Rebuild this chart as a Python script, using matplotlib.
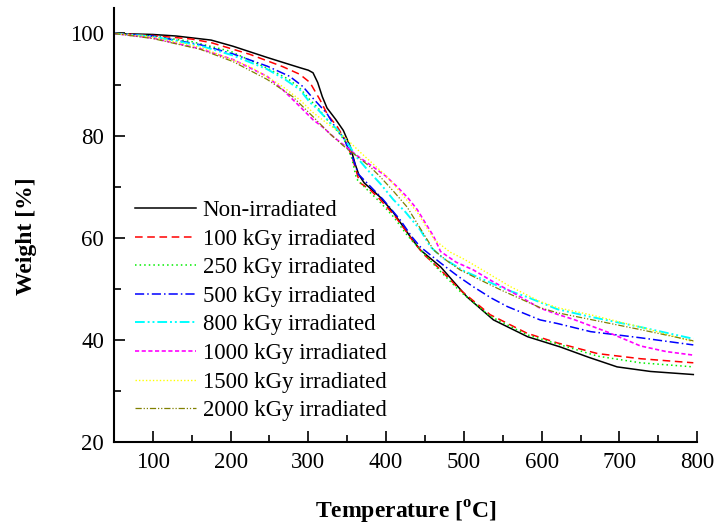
import numpy as np
import matplotlib.pyplot as plt
from matplotlib.ticker import MultipleLocator

plt.rcParams['font.family'] = 'Liberation Serif'
plt.rcParams['mathtext.fontset'] = 'custom'
plt.rcParams['mathtext.rm'] = 'Liberation Serif'
plt.rcParams['mathtext.bf'] = 'Liberation Serif:bold'

# TGA curves: temperature [C] and remaining weight [%] for each dose
t_non = [50, 100, 130, 175, 203, 247, 270, 289, 300, 306, 312, 318, 324, 335, 345, 354, 360, 365, 372, 392, 409, 431, 444, 470, 504, 538, 582, 624, 660, 697, 740, 795]
w_non = [100, 99.8, 99.5, 98.7, 97.5, 95.3, 94.2, 93.3, 92.8, 92.3, 90.4, 87.6, 85.4, 83.2, 81, 77.8, 74.5, 72.3, 70.7, 68, 65, 60.2, 57.6, 54.3, 48.4, 43.9, 40.6, 38.6, 36.6, 34.7, 33.8, 33.2]

t_100 = [50, 100, 150, 175, 225, 267, 289, 302, 315, 325, 337, 346, 356, 366, 380, 392, 410, 427, 435, 450, 466, 495, 534, 581, 620, 672, 727, 795]
w_100 = [100, 99.6, 98.9, 98.2, 95.9, 93.5, 92, 90.4, 87, 84, 81.8, 79.5, 75.9, 70.8, 69.3, 67.5, 64.5, 61, 59.2, 56.5, 54.3, 49.8, 44.9, 41.3, 39.4, 37.3, 36.3, 35.5]

t_250 = [50, 100, 150, 200, 247, 275, 289, 302, 312, 322, 335, 346, 356, 362, 375, 392, 410, 427, 440, 466, 495, 534, 581, 620, 672, 727, 795]
w_250 = [100, 99.5, 98.4, 96.5, 93.2, 91, 89.3, 87, 85.5, 83.5, 81.3, 79.2, 75.5, 71.5, 69.5, 67, 64, 60.5, 58.3, 54, 49.5, 44.6, 41, 39.2, 36.8, 35.5, 34.7]

t_500 = [50, 100, 161, 203, 247, 276, 293, 306, 315, 324, 333, 345, 358, 364, 380, 396, 418, 433, 444, 458, 473, 492, 512, 535, 556, 598, 620, 663, 727, 795]
w_500 = [100, 99.5, 97.8, 96, 93.6, 91.6, 89.6, 87.3, 85.8, 84.3, 82, 79.6, 75.3, 72.5, 70, 67.5, 63.5, 60.2, 58.2, 56.5, 54.7, 52.5, 50.4, 48.2, 46.5, 43.9, 43.2, 41.6, 40.4, 39]

t_800 = [50, 100, 161, 203, 247, 270, 289, 302, 311, 319, 328, 337, 350, 362, 376, 393, 409, 425, 444, 457, 473, 500, 525, 555, 581, 620, 663, 727, 795]
w_800 = [100, 99.4, 97.6, 95.7, 93, 91, 89, 86.5, 85.3, 84, 82.5, 81.2, 78.6, 75.8, 73.3, 70.5, 67.5, 65, 61.5, 58.2, 56, 53.5, 51.8, 49.8, 48.4, 46, 44.5, 42.5, 40.2]

t_1000 = [50, 100, 161, 203, 247, 267, 289, 306, 319, 332, 350, 365, 383, 400, 414, 428, 440, 452, 461, 470, 490, 512, 535, 560, 598, 620, 641, 685, 727, 760, 795]
w_1000 = [100, 99.1, 97, 94.9, 91.6, 89, 85.7, 83.1, 81.6, 79.8, 77.6, 75.8, 73.9, 72, 70, 67.8, 65.5, 62.5, 60.3, 57.3, 55.2, 53.7, 51.6, 49.5, 46.2, 45, 44, 41.5, 38.8, 37.7, 37]

t_1500 = [50, 100, 161, 225, 247, 267, 289, 306, 325, 337, 350, 367, 385, 401, 427, 440, 452, 462, 482, 500, 517, 540, 560, 598, 620, 663, 727, 795]
w_1500 = [100, 99.3, 97.3, 93.5, 91.5, 89.6, 87, 84.5, 82.3, 81, 79.2, 76.7, 74.2, 72, 67.3, 65, 62, 59.6, 57.2, 55.8, 54.3, 52.2, 50.4, 47.5, 46.3, 44.9, 42.5, 39.6]

t_2000 = [50, 100, 161, 203, 247, 280, 306, 328, 345, 363, 380, 392, 410, 427, 444, 461, 478, 495, 520, 547, 598, 620, 685, 727, 795]
w_2000 = [100, 99, 96.9, 94.5, 91, 87.6, 83.7, 80.3, 78, 75.9, 73.8, 72, 69, 66, 61.8, 57.6, 55.5, 53.7, 51.8, 49.8, 46.3, 45.3, 43.3, 42, 39.8]

labels = ['Non-irradiated', '100 kGy irradiated', '250 kGy irradiated', '500 kGy irradiated',
          '800 kGy irradiated', '1000 kGy irradiated', '1500 kGy irradiated', '2000 kGy irradiated']
temps = [t_non, t_100, t_250, t_500, t_800, t_1000, t_1500, t_2000]
weights = [w_non, w_100, w_250, w_500, w_800, w_1000, w_1500, w_2000]

colors = ['black', '#ff0000', '#00ee00', '#0000ff', '#00ffff', '#ff00ff', '#ffff00', '#808000']
styles = ['-', (0, (5, 3)), (0, (1, 2)), (0, (6, 2, 1, 2)), (0, (5, 1.5, 1, 1.5, 1, 1.5)),
          (0, (2.5, 1.5)), (0, (1, 1.5)), (0, (5, 1.5, 1, 1.5, 1, 1.5))]
widths = [1.1, 1.1, 1.1, 1.1, 1.4, 1.2, 1.0, 0.9]

fig = plt.figure(figsize=(7.21, 5.28), dpi=100)
ax = fig.add_axes([0.158, 0.163, 0.809, 0.822])

for t, w, lab, c, ls, lw in zip(temps, weights, labels, colors, styles, widths):
    ax.plot(t, w, color=c, linestyle=ls, linewidth=lw, label=lab)

ax.set_xlim(50, 800)
ax.set_ylim(20, 105)
ax.xaxis.set_major_locator(MultipleLocator(100))
ax.xaxis.set_minor_locator(MultipleLocator(50))
ax.yaxis.set_major_locator(MultipleLocator(20))
ax.yaxis.set_minor_locator(MultipleLocator(10))
ax.tick_params(which='both', direction='in', labelsize=16.5, width=1.2)
ax.tick_params(which='major', length=8, pad=7)
ax.tick_params(which='minor', length=5)
ax.tick_params(axis='y', which='both', right=False)
ax.tick_params(axis='x', which='both', top=False)
for side in ['top', 'right']:
    ax.spines[side].set_visible(False)
for side in ['left', 'bottom']:
    ax.spines[side].set_linewidth(1.5)

ax.set_xlabel(r'Temperature [$^\mathbf{o}$C]', fontsize=17, fontweight='bold')
ax.set_ylabel('Weight [%]', fontsize=17, fontweight='bold')
ax.xaxis.set_label_coords(0.5, -0.131)
ax.yaxis.set_label_coords(-0.132, 0.4735)

ax.legend(loc='lower left', bbox_to_anchor=(0.0206, 0.0265), frameon=False, fontsize=16.5,
          handlelength=2.65, handletextpad=0.3, labelspacing=0.33, borderaxespad=0)

fig.savefig('out.png', dpi=100)
